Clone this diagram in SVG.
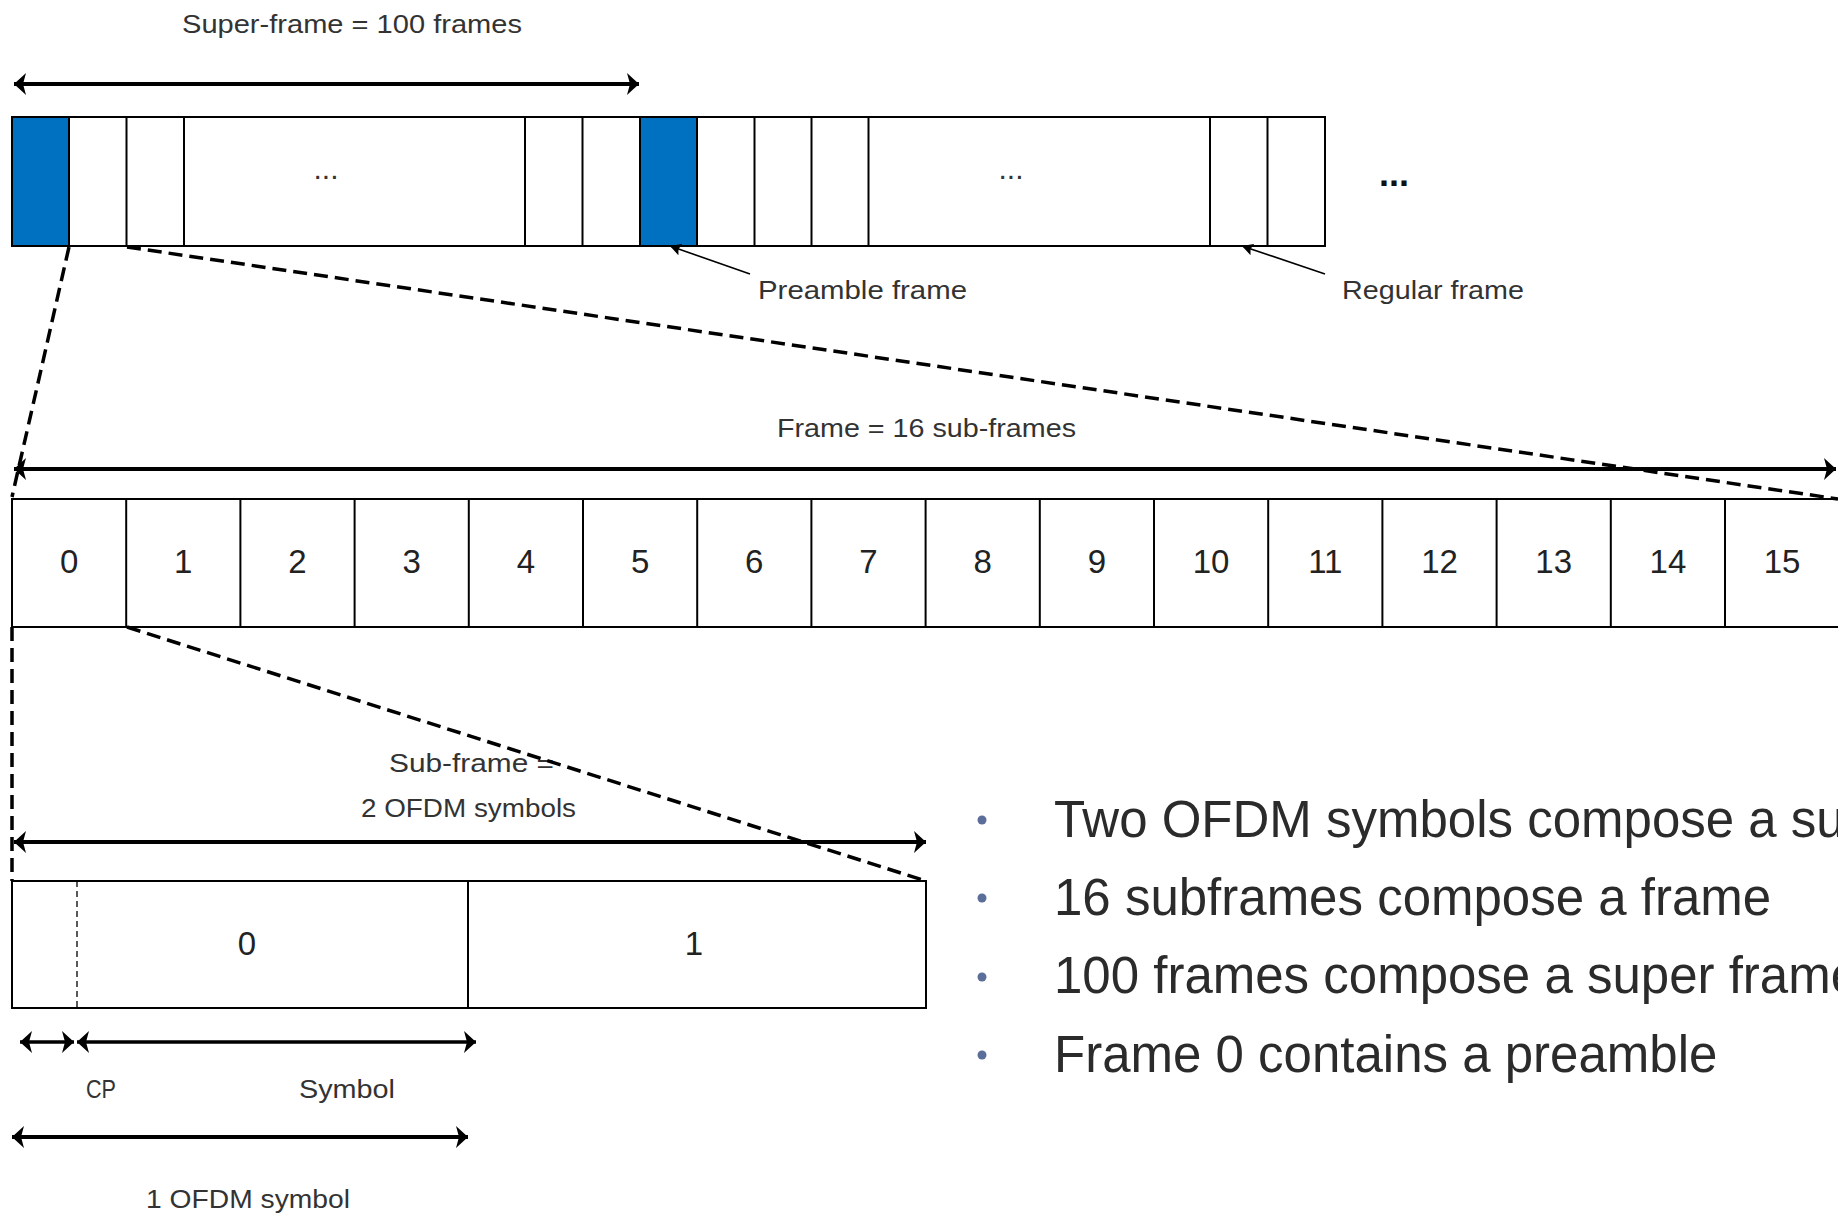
<svg xmlns="http://www.w3.org/2000/svg" width="1838" height="1215" viewBox="0 0 1838 1215">
<style>
.box{fill:#fff;stroke:#000;stroke-width:2}
.pre{fill:#0070C0;stroke:#000;stroke-width:2}
.div{stroke:#000;stroke-width:2}
.lbl{font-family:"Liberation Sans",Arial,sans-serif;font-size:26px;fill:#333}
.num{font-family:"Liberation Sans",Arial,sans-serif;font-size:33px;fill:#222;text-anchor:middle}
.dots{font-family:"Liberation Sans",Arial,sans-serif;font-size:30px;fill:#333;text-anchor:middle}
.dim{stroke:#000;stroke-width:4;fill:none;marker-start:url(#ah);marker-end:url(#ah)}
.dim2{stroke:#000;stroke-width:3.5;fill:none;marker-start:url(#ah);marker-end:url(#ah)}
.zoom{stroke:#000;stroke-width:3.5;fill:none;stroke-dasharray:14 7}
.lead{stroke:#000;stroke-width:1.6;fill:none;marker-end:url(#sh)}
.bul{font-family:"Liberation Sans",Arial,sans-serif;font-size:51px;fill:#2b2b2b}
.dot{fill:#5A6E99}
</style>
<defs>
<marker id="ah" markerUnits="userSpaceOnUse" markerWidth="14" markerHeight="24" viewBox="0 0 14 24" refX="12" refY="12" orient="auto-start-reverse">
<path d="M0,1 L12,12 L0,23 L3,12 Z" fill="#000"/>
</marker>
<marker id="sh" markerUnits="userSpaceOnUse" markerWidth="12" markerHeight="12" viewBox="0 0 12 12" refX="11" refY="6" orient="auto">
<path d="M0,0 L11,6 L0,12 L2,6 Z" fill="#000"/>
</marker>
</defs>

<!-- Super-frame row -->
<g id="superframe-label">
<text class="lbl" x="182" y="33" textLength="340" lengthAdjust="spacingAndGlyphs">Super-frame = 100 frames</text>
</g>
<g id="superframe-bar">
<rect class="box" x="12" y="117" width="1313" height="129"/>
<rect class="pre" x="12" y="117" width="57" height="129"/>
<rect class="pre" x="640" y="117" width="57" height="129"/>
<line class="div" x1="126.5" y1="117" x2="126.5" y2="246"/>
<line class="div" x1="184" y1="117" x2="184" y2="246"/>
<line class="div" x1="525" y1="117" x2="525" y2="246"/>
<line class="div" x1="582.5" y1="117" x2="582.5" y2="246"/>
<line class="div" x1="754.5" y1="117" x2="754.5" y2="246"/>
<line class="div" x1="811.5" y1="117" x2="811.5" y2="246"/>
<line class="div" x1="868.5" y1="117" x2="868.5" y2="246"/>
<line class="div" x1="1210" y1="117" x2="1210" y2="246"/>
<line class="div" x1="1267.5" y1="117" x2="1267.5" y2="246"/>
<text class="dots" x="326" y="179">...</text>
<text class="dots" x="1011" y="179">...</text>
</g>
<g id="more-dots">
<text x="1394" y="186" font-family="Liberation Sans, Arial, sans-serif" font-size="36" font-weight="bold" fill="#111" text-anchor="middle">...</text>
</g>
<g id="preamble-label">
<text class="lbl" x="758" y="299" textLength="209" lengthAdjust="spacingAndGlyphs">Preamble frame</text>
</g>
<g id="regular-label">
<text class="lbl" x="1342" y="299" textLength="182" lengthAdjust="spacingAndGlyphs">Regular frame</text>
</g>

<!-- Frame row -->
<g id="frame-label">
<text class="lbl" x="777" y="437" textLength="299" lengthAdjust="spacingAndGlyphs">Frame = 16 sub-frames</text>
</g>
<g id="frame-bar">
<rect class="box" x="12" y="499" width="1830" height="128"/>
<line class="div" x1="126.2" y1="499" x2="126.2" y2="627"/>
<line class="div" x1="240.4" y1="499" x2="240.4" y2="627"/>
<line class="div" x1="354.6" y1="499" x2="354.6" y2="627"/>
<line class="div" x1="468.8" y1="499" x2="468.8" y2="627"/>
<line class="div" x1="583" y1="499" x2="583" y2="627"/>
<line class="div" x1="697.2" y1="499" x2="697.2" y2="627"/>
<line class="div" x1="811.4" y1="499" x2="811.4" y2="627"/>
<line class="div" x1="925.6" y1="499" x2="925.6" y2="627"/>
<line class="div" x1="1039.8" y1="499" x2="1039.8" y2="627"/>
<line class="div" x1="1154" y1="499" x2="1154" y2="627"/>
<line class="div" x1="1268.2" y1="499" x2="1268.2" y2="627"/>
<line class="div" x1="1382.4" y1="499" x2="1382.4" y2="627"/>
<line class="div" x1="1496.6" y1="499" x2="1496.6" y2="627"/>
<line class="div" x1="1610.8" y1="499" x2="1610.8" y2="627"/>
<line class="div" x1="1725" y1="499" x2="1725" y2="627"/>
<text class="num" x="69.1" y="573">0</text>
<text class="num" x="183.3" y="573">1</text>
<text class="num" x="297.5" y="573">2</text>
<text class="num" x="411.7" y="573">3</text>
<text class="num" x="525.9" y="573">4</text>
<text class="num" x="640.1" y="573">5</text>
<text class="num" x="754.3" y="573">6</text>
<text class="num" x="868.5" y="573">7</text>
<text class="num" x="982.7" y="573">8</text>
<text class="num" x="1096.9" y="573">9</text>
<text class="num" x="1211.1" y="573">10</text>
<text class="num" x="1325.3" y="573">11</text>
<text class="num" x="1439.5" y="573">12</text>
<text class="num" x="1553.7" y="573">13</text>
<text class="num" x="1667.9" y="573">14</text>
<text class="num" x="1782.1" y="573">15</text>
</g>

<!-- Sub-frame row -->
<g id="subframe-label">
<text class="lbl" x="389" y="772" textLength="165" lengthAdjust="spacingAndGlyphs">Sub-frame =</text>
<text class="lbl" x="361" y="817" textLength="215" lengthAdjust="spacingAndGlyphs">2 OFDM symbols</text>
</g>
<g id="subframe-bar">
<rect class="box" x="12" y="881" width="914" height="127"/>
<line class="div" x1="468" y1="881" x2="468" y2="1008"/>
<line x1="77" y1="881" x2="77" y2="1008" stroke="#000" stroke-width="1.3" stroke-dasharray="6 4"/>
<text class="num" x="247" y="955" font-size="35">0</text>
<text class="num" x="694" y="955" font-size="35">1</text>
</g>
<g id="cp-label">
<text class="lbl" x="86" y="1098" textLength="30" lengthAdjust="spacingAndGlyphs">CP</text>
</g>
<g id="symbol-label">
<text class="lbl" x="299" y="1098" textLength="96" lengthAdjust="spacingAndGlyphs">Symbol</text>
</g>
<g id="ofdm-label">
<text class="lbl" x="146" y="1208" textLength="204" lengthAdjust="spacingAndGlyphs">1 OFDM symbol</text>
</g>

<!-- Connectors -->
<g id="connectors">
<line class="dim" x1="14" y1="84" x2="639" y2="84"/>
<line class="dim" x1="14" y1="469" x2="1836" y2="469"/>
<line class="dim" x1="14" y1="842" x2="926" y2="842"/>
<line class="dim2" x1="20" y1="1042" x2="74" y2="1042"/>
<line class="dim2" x1="77" y1="1042" x2="476" y2="1042"/>
<line class="dim" x1="12" y1="1137" x2="468" y2="1137"/>
<line class="lead" x1="750" y1="274" x2="670" y2="246"/>
<line class="lead" x1="1325" y1="274" x2="1242" y2="246"/>
<line class="zoom" x1="69" y1="247" x2="12" y2="497"/>
<line class="zoom" x1="127" y1="247" x2="1838" y2="499"/>
<line class="zoom" x1="12" y1="627" x2="12" y2="881"/>
<line class="zoom" x1="127" y1="627" x2="926" y2="881"/>
</g>

<!-- Bullets -->
<g id="bullets">
<circle class="dot" cx="982" cy="820" r="4.5"/>
<circle class="dot" cx="982" cy="898" r="4.5"/>
<circle class="dot" cx="982" cy="977" r="4.5"/>
<circle class="dot" cx="982" cy="1055" r="4.5"/>
<text class="bul" x="1054" y="837">Two OFDM symbols compose a subframe</text>
<text class="bul" x="1054" y="915">16 subframes compose a frame</text>
<text class="bul" x="1054" y="993">100 frames compose a super frame</text>
<text class="bul" x="1054" y="1072">Frame 0 contains a preamble</text>
</g>
</svg>
